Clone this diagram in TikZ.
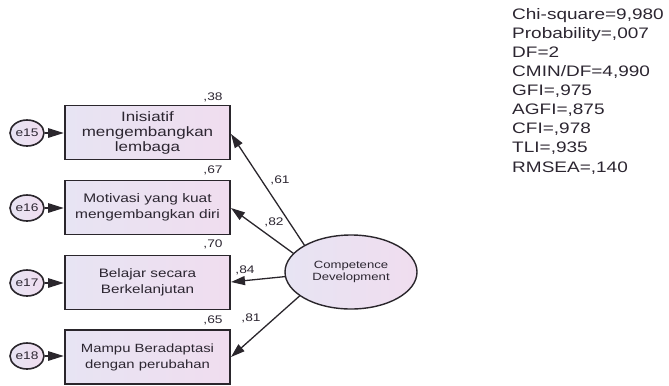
\documentclass[tikz,border=0pt]{standalone}
\usepackage{fontspec}
\setmainfont{Liberation Sans}
\newfontfamily\wsf[FakeStretch=1.25]{Liberation Sans}
\usetikzlibrary{arrows.meta,shapes.geometric}
\definecolor{ink}{HTML}{2C2631}
\definecolor{edge}{HTML}{2A262C}
\definecolor{fillL}{HTML}{E7E4F3}
\definecolor{fillR}{HTML}{F0DDEF}
\tikzset{
  obsbox/.style={draw=edge, line width=1.6bp, rectangle, minimum width=165bp, minimum height=54bp,
    inner sep=2bp, left color=fillL, right color=fillR, align=center, text=ink},
  errc/.style={draw=edge, line width=1.6bp, ellipse, minimum width=34bp, minimum height=26bp,
    inner sep=0pt, left color=fillL, right color=fillR, text=ink,
    font=\wsf\fontsize{11bp}{13bp}\selectfont},
  latent/.style={draw=edge, line width=1.4bp, ellipse, minimum width=132bp, minimum height=74bp,
    inner sep=0pt, left color=fillL, right color=fillR, align=center, text=ink,
    font=\wsf\fontsize{10.5bp}{12.5bp}\selectfont},
  lbl/.style={text=ink, inner sep=0pt, font=\wsf\fontsize{11bp}{12bp}\selectfont},
  load/.style={draw=edge, line width=1.3bp, -{Triangle[length=14bp,width=9bp]}},
  errarr/.style={draw=edge, line width=2.6bp, -{Triangle[length=16bp,width=9bp]}},
  fit/.style={text=ink, inner sep=0pt, align=left, anchor=north west,
    font=\wsf\fontsize{15.2bp}{19.1bp}\selectfont}
}
\begin{document}
\begin{tikzpicture}[x=1bp,y=-1bp]
\useasboundingbox (0,0) rectangle (669,385);
\node[obsbox, font=\wsf\fontsize{13.6bp}{15bp}\selectfont] (b1) at (147.5,132.5) {Inisiatif\\mengembangkan\\lembaga};
\node[obsbox, font=\wsf\fontsize{12.4bp}{16bp}\selectfont] (b2) at (147.5,207.5) {Motivasi yang kuat\\mengembangkan diri};
\node[obsbox, font=\wsf\fontsize{12.2bp}{16bp}\selectfont] (b3) at (147.5,282.5) {Belajar secara\\Berkelanjutan};
\node[obsbox, font=\wsf\fontsize{11.9bp}{16bp}\selectfont] (b4) at (147.5,357) {Mampu Beradaptasi\\dengan perubahan};
\node[errc] (e15) at (27,133) {e15};
\node[errc] (e16) at (27,208) {e16};
\node[errc] (e17) at (27,283) {e17};
\node[errc] (e18) at (27,356) {e18};
\node[latent] (cd) at (351,272) {Competence\\Development};
\draw[errarr] (e15) -- (b1.west |- e15);
\draw[errarr] (e16) -- (b2.west |- e16);
\draw[errarr] (e17) -- (b3.west |- e17);
\draw[errarr] (e18) -- (b4.west |- e18);
\coordinate (t1) at (231,134);
\coordinate (t2) at (231,208);
\coordinate (t3) at (231,282);
\coordinate (t4) at (231,357);
\draw[load] (cd.150) -- (t1);
\draw[load] (cd.162) -- (t2);
\draw[load] (cd.184) -- (t3);
\draw[load] (cd.205) -- (t4);
\node[lbl] (r1) at (213,97) {,38};
\node[lbl] (r2) at (213,170) {,67};
\node[lbl] (r3) at (213,244) {,70};
\node[lbl] (r4) at (213,320) {,65};
\node[lbl] (l1) at (280,180) {,61};
\node[lbl] (l2) at (274,222) {,82};
\node[lbl] (l3) at (245,270) {,84};
\node[lbl] (l4) at (251,318) {,81};
\node[fit] (fitstats) at (512,8) {Chi-square=9,980\\Probability=,007\\DF=2\\CMIN/DF=4,990\\GFI=,975\\AGFI=,875\\CFI=,978\\TLI=,935\\RMSEA=,140};
\end{tikzpicture}
\end{document}
